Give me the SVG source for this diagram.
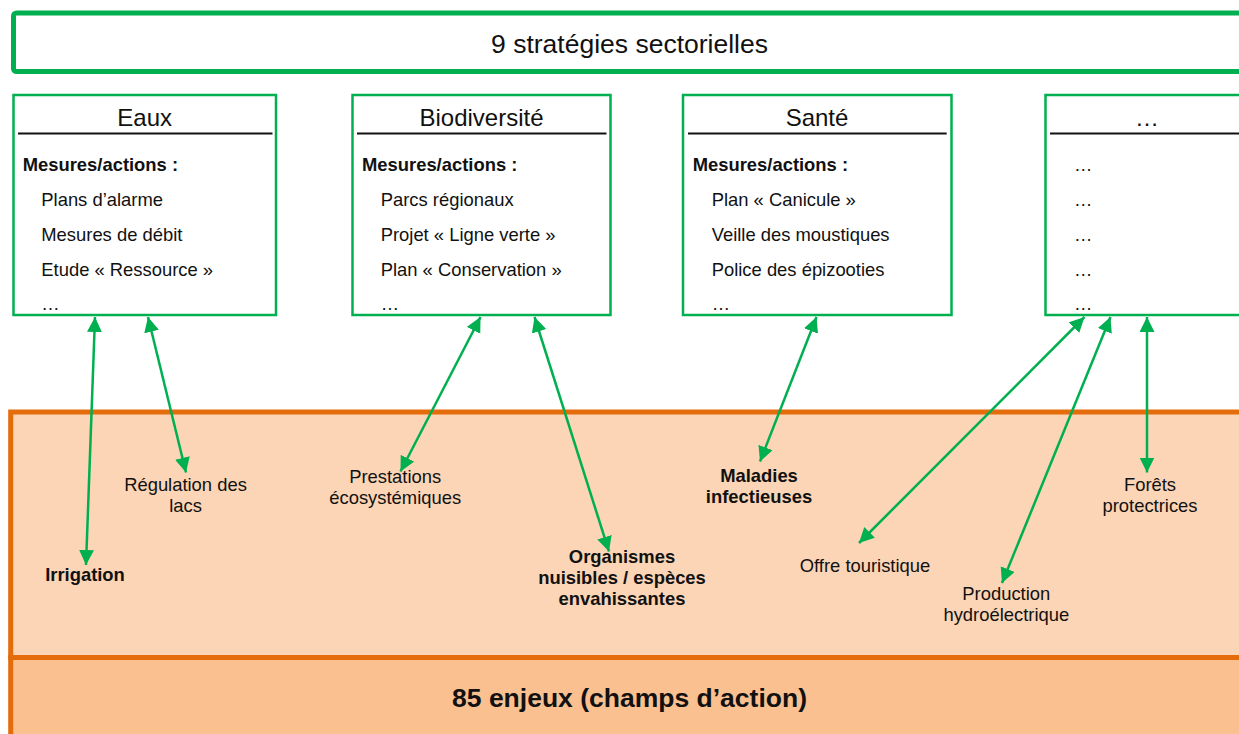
<svg xmlns="http://www.w3.org/2000/svg" width="1239" height="734" viewBox="0 0 1239 734">
  <style>
    text { font-family: "Liberation Sans", Arial, sans-serif; fill: #111; }
    .head { font-size: 26.5px; text-anchor: middle; }
    .head-b { font-size: 26.5px; font-weight: bold; text-anchor: middle; }
    .title { font-size: 24px; text-anchor: middle; }
    .sub { font-size: 18.4px; font-weight: bold; }
    .item { font-size: 18.4px; }
    .lbl { font-size: 18.4px; text-anchor: middle; }
    .lbl-b { font-size: 18.4px; font-weight: bold; text-anchor: middle; }
    .box { fill: #fff; stroke: #00B050; stroke-width: 2.5; }
    .rule { stroke: #111; stroke-width: 2; }
    .link { stroke: #00B050; stroke-width: 2.5; fill: none; marker-start: url(#head); marker-end: url(#head); }
  </style>
  <defs>
    <marker id="head" markerUnits="userSpaceOnUse" markerWidth="16" markerHeight="16" refX="15" refY="7.5" orient="auto-start-reverse">
      <path d="M0,0 L15,7.5 L0,15 Z" fill="#00B050"/>
    </marker>
  </defs>

  <rect width="1239" height="734" fill="#fff"/>

  <!-- strategies banner -->
  <g id="strategies">
    <rect x="13.5" y="13" width="1232" height="58.5" rx="3" fill="#fff" stroke="#00B050" stroke-width="5"/>
    <text class="head" x="629.5" y="53.3">9 stratégies sectorielles</text>
  </g>

  <!-- issues area -->
  <g id="enjeux">
    <rect x="10.7" y="412" width="1240" height="245.5" fill="#FBD5B5" stroke="#E46C0A" stroke-width="5"/>
    <rect x="10.7" y="657.5" width="1240" height="90" fill="#FAC090" stroke="#E46C0A" stroke-width="5"/>
    <text class="head-b" x="629.5" y="707.3">85 enjeux (champs d’action)</text>
  </g>

  <!-- sector boxes -->
  <g id="eaux">
    <rect class="box" x="13.5" y="95" width="262.5" height="220"/>
    <text class="title" x="144.7" y="126">Eaux</text>
    <line class="rule" x1="18" y1="133.5" x2="272.5" y2="133.5"/>
    <text class="sub" x="22.7" y="170.7">Mesures/actions :</text>
    <text class="item" x="41.3" y="205.5">Plans d’alarme</text>
    <text class="item" x="41.3" y="240.5">Mesures de débit</text>
    <text class="item" x="41.3" y="275.5">Etude « Ressource »</text>
    <text class="item" x="41.3" y="310">…</text>
  </g>

  <g id="biodiversite">
    <rect class="box" x="352.5" y="95" width="258" height="220"/>
    <text class="title" x="481.5" y="126">Biodiversité</text>
    <line class="rule" x1="357" y1="133.5" x2="606.5" y2="133.5"/>
    <text class="sub" x="362" y="170.7">Mesures/actions :</text>
    <text class="item" x="380.7" y="205.5">Parcs régionaux</text>
    <text class="item" x="380.7" y="240.5">Projet « Ligne verte »</text>
    <text class="item" x="380.7" y="275.5">Plan « Conservation »</text>
    <text class="item" x="380.7" y="310">…</text>
  </g>

  <g id="sante">
    <rect class="box" x="683" y="95" width="268.5" height="220"/>
    <text class="title" x="817" y="126">Santé</text>
    <line class="rule" x1="688" y1="133.5" x2="946.7" y2="133.5"/>
    <text class="sub" x="692.7" y="170.7">Mesures/actions :</text>
    <text class="item" x="711.7" y="205.5">Plan « Canicule »</text>
    <text class="item" x="711.7" y="240.5">Veille des moustiques</text>
    <text class="item" x="711.7" y="275.5">Police des épizooties</text>
    <text class="item" x="711.7" y="310">…</text>
  </g>

  <g id="autres">
    <rect class="box" x="1045.5" y="95" width="204" height="220"/>
    <text class="title" x="1147" y="126">…</text>
    <line class="rule" x1="1050" y1="133.5" x2="1245" y2="133.5"/>
    <text class="item" x="1074" y="171">…</text>
    <text class="item" x="1074" y="205.5">…</text>
    <text class="item" x="1074" y="240.5">…</text>
    <text class="item" x="1074" y="275.5">…</text>
    <text class="item" x="1074" y="310">…</text>
  </g>

  <!-- issue labels -->
  <g id="irrigation"><text class="lbl-b" x="85" y="581">Irrigation</text></g>
  <g id="regulation-lacs">
    <text class="lbl" x="185.5" y="490.7">Régulation des</text>
    <text class="lbl" x="185.5" y="512.3">lacs</text>
  </g>
  <g id="prestations">
    <text class="lbl" x="395.2" y="482.7">Prestations</text>
    <text class="lbl" x="395.2" y="504">écosystémiques</text>
  </g>
  <g id="organismes">
    <text class="lbl-b" x="622" y="563.3">Organismes</text>
    <text class="lbl-b" x="622" y="584.3">nuisibles / espèces</text>
    <text class="lbl-b" x="622" y="605.3">envahissantes</text>
  </g>
  <g id="maladies">
    <text class="lbl-b" x="759" y="481.7">Maladies</text>
    <text class="lbl-b" x="759" y="503.3">infectieuses</text>
  </g>
  <g id="tourisme"><text class="lbl" x="865" y="571.7">Offre touristique</text></g>
  <g id="hydro">
    <text class="lbl" x="1006.3" y="600">Production</text>
    <text class="lbl" x="1006.3" y="620.7">hydroélectrique</text>
  </g>
  <g id="forets">
    <text class="lbl" x="1150" y="490.7">Forêts</text>
    <text class="lbl" x="1150" y="512.3">protectrices</text>
  </g>

  <!-- two-way links between measures and issues -->
  <g id="connectors">
    <line class="link" x1="95" y1="317" x2="86" y2="565"/>
    <line class="link" x1="148" y1="317" x2="186" y2="472.5"/>
    <line class="link" x1="480.5" y1="317" x2="400.5" y2="471.5"/>
    <line class="link" x1="534.5" y1="317" x2="609" y2="551.5"/>
    <line class="link" x1="816.5" y1="317" x2="760" y2="461.5"/>
    <line class="link" x1="1084.5" y1="317" x2="859" y2="543"/>
    <line class="link" x1="1110.5" y1="317" x2="1002" y2="583"/>
    <line class="link" x1="1147" y1="317" x2="1147" y2="472.5"/>
  </g>
</svg>
